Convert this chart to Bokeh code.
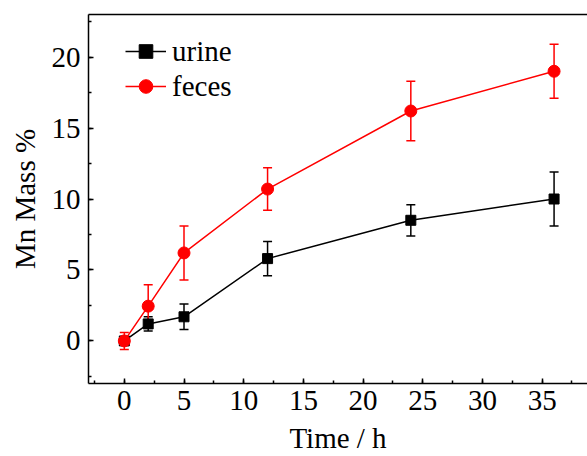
from bokeh.plotting import figure
from bokeh.models import (ColumnDataSource, Whisker, TeeHead, Legend, LegendItem,
                          SingleIntervalTicker, FixedTicker, LinearAxis, Range1d)
from bokeh.embed import file_html
from bokeh.resources import INLINE

# ---- data ----
time_h = [0, 2, 5, 12, 24, 36]
urine = [0.0, 1.2, 1.7, 5.8, 8.5, 10.0]
urine_err = [0.3, 0.5, 0.9, 1.2, 1.1, 1.9]
feces = [0.0, 2.45, 6.2, 10.7, 16.2, 19.0]
feces_err = [0.6, 1.5, 1.9, 1.5, 2.1, 1.9]
x_ticks = [0, 5, 10, 15, 20, 25, 30, 35]
y_ticks = [0, 5, 10, 15, 20]

FONT = "Liberation Serif"

def src(vals, errs):
    return ColumnDataSource(dict(
        x=time_h, y=vals,
        upper=[v + e for v, e in zip(vals, errs)],
        lower=[v - e for v, e in zip(vals, errs)],
    ))

s_urine = src(urine, urine_err)
s_feces = src(feces, feces_err)

p = figure(width=587, height=456, output_backend="svg", toolbar_location=None,
           x_range=Range1d(-3, 38.8), y_range=Range1d(-3, 23),
           frame_width=499, frame_height=369,
           min_border_left=88, min_border_right=0, min_border_top=14,
           min_border_bottom=73)
p.outline_line_color = None
p.xgrid.visible = False
p.ygrid.visible = False
p.background_fill_color = "white"

for ax in (p.xaxis[0], p.yaxis[0]):
    ax.ticker = SingleIntervalTicker(interval=5, num_minor_ticks=2)
    ax.major_tick_in = 5
    ax.major_tick_out = 0
    ax.minor_tick_in = 3
    ax.minor_tick_out = 0
    ax.axis_line_width = 1.5
    ax.major_tick_line_width = 1.5
    ax.minor_tick_line_width = 1.5
    ax.major_label_text_font = FONT
    ax.major_label_text_font_size = "29px"
    ax.major_label_text_color = "black"
    ax.axis_label_text_font = FONT
    ax.axis_label_text_font_size = "29px"
    ax.axis_label_text_font_style = "normal"
    ax.axis_label_text_color = "black"

p.xaxis.axis_label = "Time / h"
p.yaxis.axis_label = "Mn Mass %"
p.xaxis.major_label_standoff = 7
p.yaxis.major_label_standoff = 8
p.xaxis.axis_label_standoff = 9
p.yaxis.axis_label_standoff = 8

# top frame line
top_ax = LinearAxis(axis_line_width=1.5, ticker=FixedTicker(ticks=[]),
                    major_tick_line_color=None, minor_tick_line_color=None,
                    major_label_standoff=0, major_tick_in=0, major_tick_out=0,
                    minor_tick_in=0, minor_tick_out=0)
p.add_layout(top_ax, "above")

# urine series (black)
w1 = Whisker(base="x", upper="upper", lower="lower", source=s_urine,
             line_color="black", line_width=1.5,
             upper_head=TeeHead(size=9, line_color="black", line_width=1.5),
             lower_head=TeeHead(size=9, line_color="black", line_width=1.5))
p.add_layout(w1)
l1 = p.line("x", "y", source=s_urine, line_color="black", line_width=1.5)
m1 = p.scatter("x", "y", source=s_urine, marker="square", size=10,
               fill_color="black", line_color="black")

# feces series (red)
w2 = Whisker(base="x", upper="upper", lower="lower", source=s_feces,
             line_color="#ff0000", line_width=1.5,
             upper_head=TeeHead(size=9, line_color="#ff0000", line_width=1.5),
             lower_head=TeeHead(size=9, line_color="#ff0000", line_width=1.5))
p.add_layout(w2)
l2 = p.line("x", "y", source=s_feces, line_color="#ff0000", line_width=1.5)
m2 = p.scatter("x", "y", source=s_feces, marker="circle", size=12,
               fill_color="#ff0000", line_color="#ff0000")

legend = Legend(items=[LegendItem(label="urine", renderers=[l1, m1]),
                       LegendItem(label="feces", renderers=[l2, m2])],
                location=(37, 280), orientation="vertical",
                glyph_width=41, glyph_height=34, label_height=34,
                label_standoff=6, spacing=1, padding=0, margin=0,
                label_text_font=FONT, label_text_font_size="29px",
                label_text_color="black",
                background_fill_alpha=0, border_line_color=None)
p.add_layout(legend)

open("out.html", "w").write(file_html(p, INLINE))
